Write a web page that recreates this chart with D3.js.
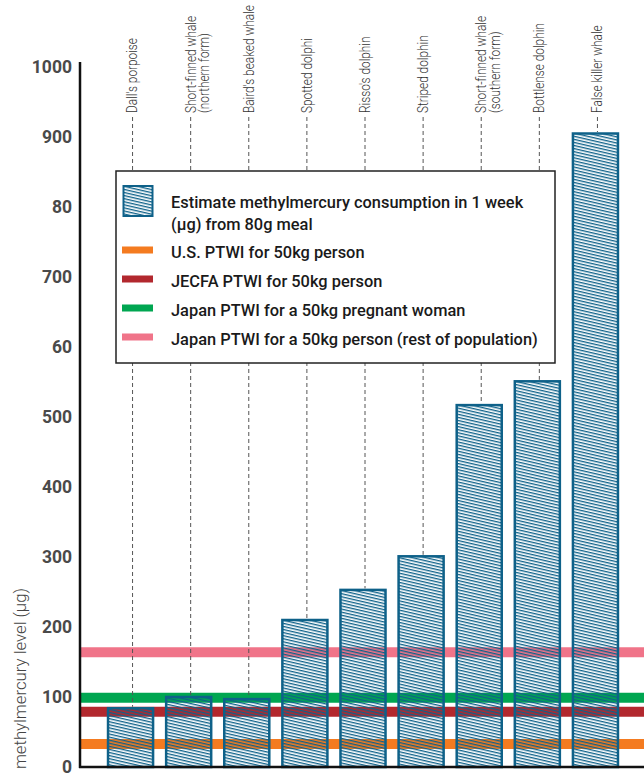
<!DOCTYPE html>
<html>
<head>
<meta charset="utf-8">
<script src="https://cdn.jsdelivr.net/npm/d3@7"></script>
<style>
  body { margin: 0; background: #fff; }
  svg { display: block; }
</style>
</head>
<body>
<div class="chart"></div>
<script>
// data
var species = ["Dall's porpoise", "Short-finned whale (northern form)", "Baird's beaked whale",
  "Spotted dolphi", "Risso's dolphin", "Striped dolphin", "Short-finned whale (southern form)",
  "Bottlense dolphin", "False killer whale"];
var speciesLines = [["Dall's porpoise"], ["Short-finned whale", "(northern form)"], ["Baird's beaked whale"],
  ["Spotted dolphi"], ["Risso's dolphin"], ["Striped dolphin"], ["Short-finned whale", "(southern form)"],
  ["Bottlense dolphin"], ["False killer whale"]];
var mercury = [84, 100, 97, 210, 253, 301, 517, 551, 905];

var limitNames = ["U.S. PTWI for 50kg person", "JECFA PTWI for 50kg person",
  "Japan PTWI for a 50kg pregnant woman", "Japan PTWI for a 50kg person (rest of population)"];
var limitValues = [33, 79, 99, 164];
var limitColors = ["#f47b20", "#b2282e", "#00a651", "#f07489"];

var tickValues = [0, 100, 200, 300, 400, 500, 600, 700, 800, 900, 1000];
var tickLabels = ["0", "100", "200", "300", "400", "500", "60", "700", "80", "900", "1000"];

var barLegend = ["Estimate methylmercury consumption in 1 week", "(\u03bcg) from 80g meal"];

var W = 644, H = 773;
var blue = "#0e6189";

var svg = d3.select(".chart").append("svg")
    .attr("width", W)
    .attr("height", H);

var defs = svg.append("defs");
var hatch = defs.append("pattern")
    .attr("id", "hatch")
    .attr("patternUnits", "userSpaceOnUse")
    .attr("width", 8)
    .attr("height", 3)
    .attr("patternTransform", "rotate(13)");
hatch.append("rect")
    .attr("x", 0).attr("y", 0)
    .attr("width", 8).attr("height", 1.35)
    .attr("fill", blue);

var y = d3.scaleLinear().domain([0, 1000]).range([767, 67]);
var x = d3.scaleBand().domain(species).range([101.5, 624.5])
    .paddingInner(0.225).paddingOuter(0.1125);

// threshold bands
svg.append("g").selectAll("line")
  .data(limitValues)
  .join("line")
    .attr("x1", 80).attr("x2", W)
    .attr("y1", d => y(d)).attr("y2", d => y(d))
    .attr("stroke", (d, i) => limitColors[i])
    .attr("stroke-width", 10);

// bars
svg.append("g").selectAll("rect")
  .data(mercury)
  .join("rect")
    .attr("x", (d, i) => x(species[i]))
    .attr("y", d => y(d))
    .attr("width", x.bandwidth())
    .attr("height", d => y(0) - y(d))
    .attr("fill", "url(#hatch)")
    .attr("stroke", blue)
    .attr("stroke-width", 2.5);

// dashed leader lines
svg.append("g").selectAll("line")
  .data(mercury)
  .join("line")
    .attr("x1", (d, i) => x(species[i]) + x.bandwidth() / 2 + 2)
    .attr("x2", (d, i) => x(species[i]) + x.bandwidth() / 2 + 2)
    .attr("y1", 117)
    .attr("y2", d => y(d) - 1.5)
    .attr("stroke", "#555")
    .attr("stroke-width", 1)
    .attr("stroke-dasharray", "4,3");

// species labels, rotated; the font is squeezed along the text to look condensed
var squeeze = 0.8;
var lab = svg.append("g").selectAll("g")
  .data(species)
  .join("g");
lab.selectAll("text")
  .data((d, i) => speciesLines[i])
  .join("text")
    .attr("x", 0)
    .attr("y", (d, j) => j * 13.5)
    .attr("dy", "0.35em")
    .attr("text-anchor", "start")
    .attr("font-family", "Roboto, sans-serif")
    .attr("font-weight", 300)
    .attr("font-size", 14)
    .attr("fill", "#333")
    .text(d => d);
// fit: "Baird's beaked whale" runs about 108px in the picture
var bairdLen = lab.filter((d, i) => i == 2).select("text").node().getComputedTextLength();
squeeze = 108 / bairdLen;
lab.attr("transform", d => "translate(" + (x(d) + x.bandwidth() / 2 + 2) + ",113) rotate(-90) scale(" + squeeze + ",1)");

// y axis
var yAxis = d3.axisLeft(y)
    .tickValues(tickValues)
    .tickFormat((d, i) => tickLabels[i])
    .tickSize(0)
    .tickPadding(8);
var ag = svg.append("g").attr("transform", "translate(80,0)").call(yAxis);
ag.select(".domain").remove();
ag.selectAll("text")
    .attr("font-family", "Roboto, sans-serif")
    .attr("font-weight", "bold")
    .attr("font-size", 17.5)
    .attr("fill", "#4a4a4a");

svg.append("line")
    .attr("x1", 80).attr("x2", 80)
    .attr("y1", 62).attr("y2", 768)
    .attr("stroke", "#111").attr("stroke-width", 2.5);
svg.append("line")
    .attr("x1", 79).attr("x2", W)
    .attr("y1", 767).attr("y2", 767)
    .attr("stroke", "#111").attr("stroke-width", 2.5);

svg.append("text")
    .attr("transform", "translate(26,588) rotate(-90)")
    .attr("text-anchor", "end")
    .attr("font-family", "Roboto, sans-serif")
    .attr("font-weight", 300)
    .attr("font-size", 16.8)
    .attr("fill", "#444")
    .text("methylmercury level (\u03bcg)");

// legend
var leg = svg.append("g");
leg.append("rect")
    .attr("x", 116).attr("y", 171)
    .attr("width", 439).attr("height", 192)
    .attr("fill", "#fff")
    .attr("stroke", "#222")
    .attr("stroke-width", 1.5);
leg.append("rect")
    .attr("x", 123.5).attr("y", 186)
    .attr("width", 29).attr("height", 30)
    .attr("fill", "url(#hatch)")
    .attr("stroke", blue)
    .attr("stroke-width", 2);

var legFont = "Roboto, sans-serif";
leg.selectAll("text.bar")
  .data(barLegend)
  .join("text")
    .attr("class", "bar")
    .attr("x", 171)
    .attr("y", (d, i) => 208 + i * 22)
    .attr("font-family", legFont)
    .attr("font-weight", 500)
    .attr("font-size", 16.4)
    .attr("fill", "#1a1a1a")
    .text(d => d);

var items = leg.selectAll("g.item")
  .data(limitNames)
  .join("g")
    .attr("class", "item")
    .attr("transform", (d, i) => "translate(0," + (258 + i * 29) + ")");
items.append("rect")
    .attr("x", 122).attr("y", -11.5)
    .attr("width", 31).attr("height", 7)
    .attr("fill", (d, i) => limitColors[i]);
items.append("text")
    .attr("x", 171)
    .attr("y", 0)
    .attr("font-family", legFont)
    .attr("font-weight", 500)
    .attr("font-size", 16.4)
    .attr("fill", "#1a1a1a")
    .text(d => d);
</script>
</body>
</html>
